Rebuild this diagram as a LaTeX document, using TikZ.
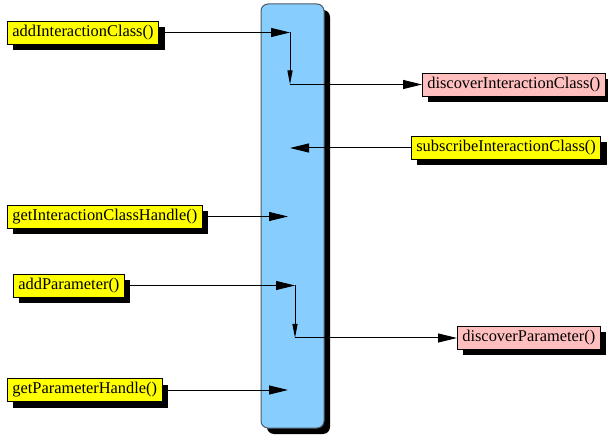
\documentclass[tikz,border=0pt]{standalone}
\usepackage{fontspec}
\setmainfont{Liberation Serif}
\usetikzlibrary{arrows.meta,shadows}
\definecolor{callyellow}{RGB}{255,255,0}
\definecolor{cbpink}{RGB}{255,191,191}
\definecolor{rtiblue}{RGB}{135,206,255}
\definecolor{rtiedge}{RGB}{80,90,100}
\begin{document}
\begin{tikzpicture}[x=1pt,y=-1pt,
  hardshadow/.style={drop shadow={shadow xshift=6pt, shadow yshift=-6pt, fill=black, opacity=1}},
  call/.style={draw=black, line width=0.7pt, fill=callyellow, anchor=west,
    minimum height=23pt, inner xsep=5pt, inner ysep=0pt,
    font=\fontsize{16.4}{19}\selectfont, hardshadow},
  callback/.style={call, fill=cbpink},
  msg/.style={line width=1pt, -{Triangle[length=19pt,width=9pt]}},
  turn/.style={line width=1pt, -{Triangle[length=14pt,width=5pt]}}]
\useasboundingbox (0,0) rectangle (608,438);

% the RTI bar
\node[draw=rtiedge, line width=1pt, fill=rtiblue, rounded corners=7pt,
  minimum width=63pt, minimum height=424pt, hardshadow] (rti) at (292.5,216) {};

% service calls and callbacks
\node[call] (aic) at (7,32.5) {addInteractionClass()};
\node[callback] (dic) at (422,84.5) {discoverInteractionClass()};
\node[call] (sic) at (411,148) {subscribeInteractionClass()};
\node[call] (gich) at (7,216.5) {getInteractionClassHandle()};
\node[call] (ap) at (13,285.5) {addParameter()};
\node[callback] (dp) at (457,338) {discoverParameter()};
\node[call] (gph) at (7,390) {getParameterHandle()};

% turning points inside the bar
\coordinate (t1) at (290,32.5);
\coordinate (j1) at (290,84.5);
\coordinate (t2) at (290,148);
\coordinate (t3) at (288,216.5);
\coordinate (t4) at (295,285.5);
\coordinate (j2) at (295,338);
\coordinate (t5) at (288,390);

\draw[msg] (aic.east) -- (t1);
\draw[turn] (t1) -- (j1);
\draw[msg] (j1) -- (dic.west);
\draw[msg] (sic.west) -- (t2);
\draw[msg] (gich.east) -- (t3);
\draw[msg] (ap.east) -- (t4);
\draw[turn] (t4) -- (j2);
\draw[msg] (j2) -- (dp.west);
\draw[msg] (gph.east) -- (t5);
\end{tikzpicture}
\end{document}
